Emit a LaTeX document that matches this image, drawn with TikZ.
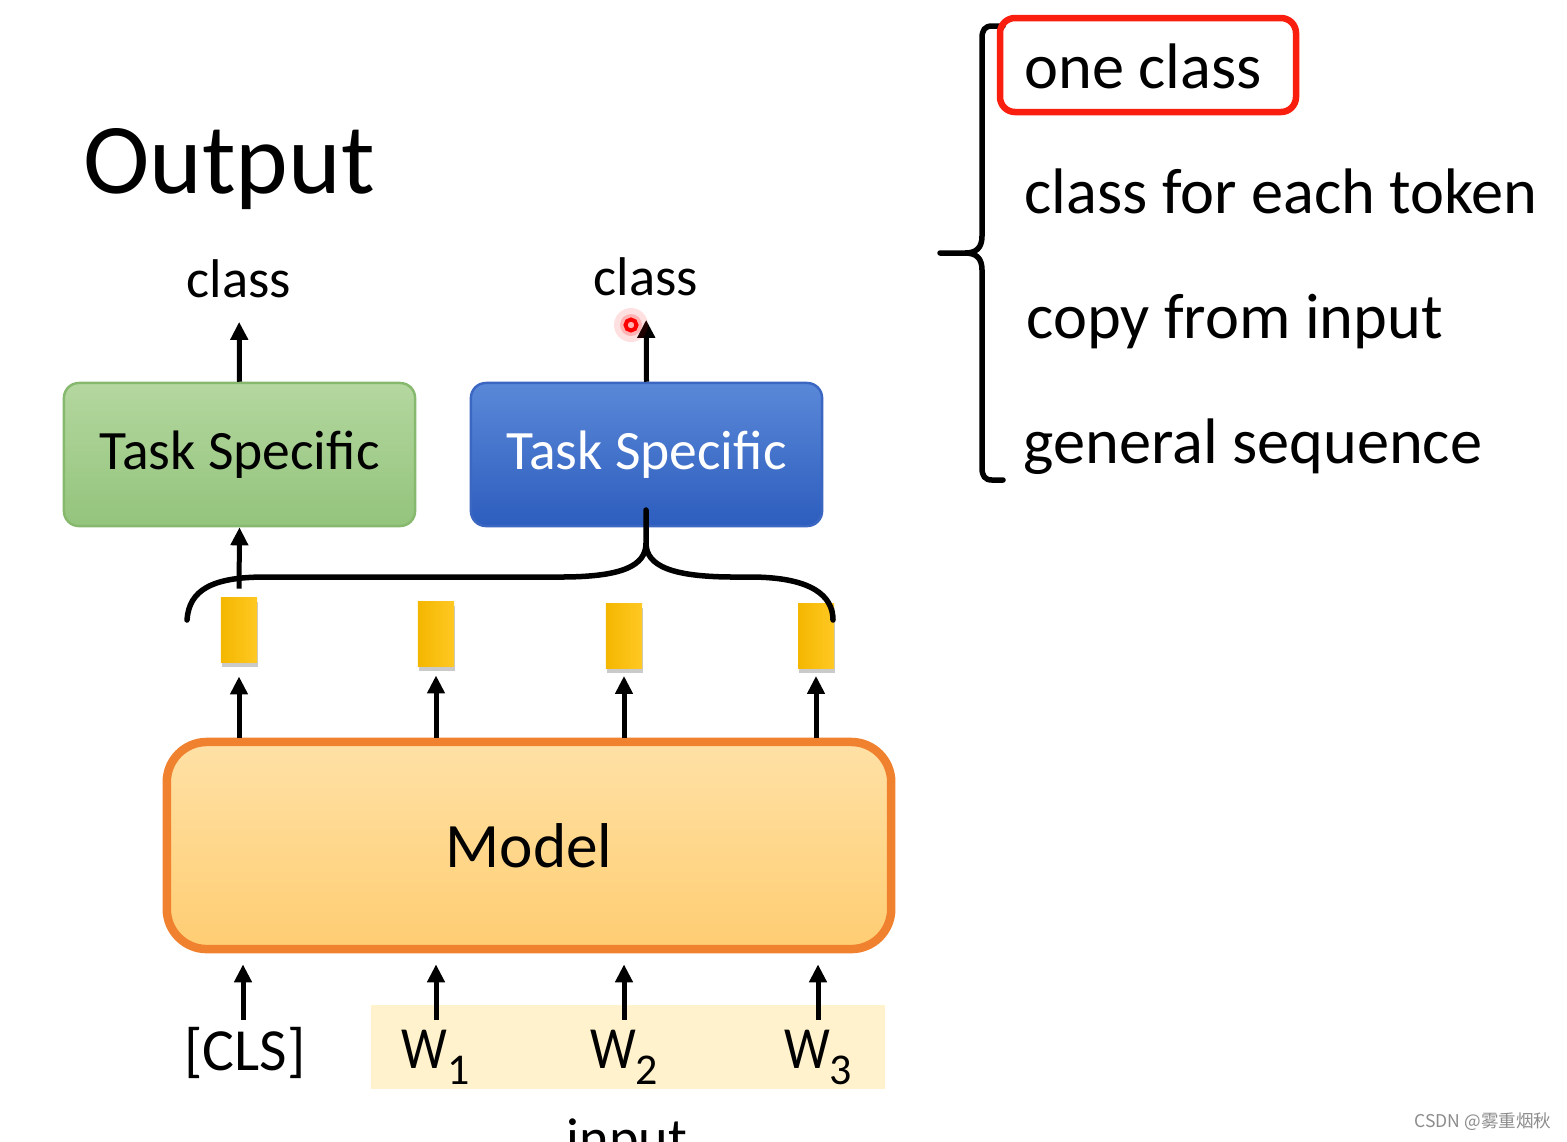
\documentclass[tikz,border=0pt]{standalone}
\usepackage{fontspec}
\setmainfont{Carlito}
\newfontfamily\cjk{Noto Sans CJK SC}
\usetikzlibrary{arrows.meta,positioning,shadows}
\definecolor{greentop}{HTML}{B4D79F}
\definecolor{greenbot}{HTML}{93C47C}
\definecolor{greenline}{HTML}{86B96D}
\definecolor{bluetop}{HTML}{5A88D8}
\definecolor{bluebot}{HTML}{2D5DBE}
\definecolor{blueline}{HTML}{3B67C2}
\definecolor{modeltop}{HTML}{FFE1A6}
\definecolor{modelbot}{HTML}{FFCD72}
\definecolor{modelline}{HTML}{F0822F}
\definecolor{vecleft}{HTML}{F4B700}
\definecolor{vecright}{HTML}{FFC823}
\definecolor{inputbg}{HTML}{FFF2CC}
\definecolor{redline}{HTML}{FA1E0E}
\tikzstyle{texto}=[inner sep=0pt]
\tikzstyle{listtext}=[texto,anchor=base west,font=\fontsize{18.3}{20}\selectfont]
\tikzstyle{labeltext}=[texto,anchor=base,font=\fontsize{15.5}{18}\selectfont]
\tikzstyle{tokentext}=[texto,anchor=base,font=\fontsize{17}{19}\selectfont]
\tikzstyle{taskbox}=[rounded corners=0.15cm,minimum width=3.51cm,minimum height=1.43cm,font=\fontsize{15.8}{18}\selectfont,line width=0.7pt]
\tikzstyle{greenbox}=[taskbox,draw=greenline,top color=greentop,bottom color=greenbot]
\tikzstyle{bluebox}=[taskbox,draw=blueline,top color=bluetop,bottom color=bluebot,text=white]
\tikzstyle{modelbox}=[rounded corners=0.4cm,minimum width=7.24cm,minimum height=2.07cm,line width=0.085cm,draw=modelline,top color=modeltop,bottom color=modelbot,font=\fontsize{18}{20}\selectfont]
\tikzstyle{vec}=[minimum width=0.36cm,minimum height=0.65cm,inner sep=0pt,left color=vecleft,right color=vecright,drop shadow={shadow xshift=0.3pt,shadow yshift=-1.3pt,fill=black!60,opacity=0.35}]
\tikzstyle{arr}=[line width=0.05cm,-{Triangle[length=0.18cm,width=0.17cm]}]
\tikzstyle{brace}=[line width=0.055cm,line cap=round]
\newcommand{\wsub}[1]{\scalebox{0.86}[1]{W}\raisebox{-0.28em}{\fontsize{12.5}{14}\selectfont #1}}

\begin{document}
\begin{tikzpicture}[x=0.01cm,y=-0.01cm,thick]
    \useasboundingbox (0,0) rectangle (1567,1141);
    % input band
    \fill [inputbg] (371,1005) rectangle (885,1089);

    \node [texto,anchor=base west,font=\fontsize{28.5}{30}\selectfont] (out) at (82,193) {Output};

    % task specific heads
    \node [greenbox] (ts1) at (239.5,454.5) {\raisebox{-2pt}{Task Specific}};
    \node [bluebox]  (ts2) at (646.5,454.5) {\raisebox{-2pt}{Task Specific}};
    \node [labeltext] (c1) at (239,297) {class};
    \node [labeltext] (c2) at (646,295) {class};
    \draw [arr,shorten >=0.23cm] (ts1.north) -- (c1.south);
    \draw [arr,shorten >=0.23cm] (ts2.north) -- (c2.south);

    % model and hidden vectors
    \node [modelbox] (model) at (529,845.5) {Model};
    \node [vec] (h1) at (239,629.5) {};
    \node [vec] (h2) at (436,633.5) {};
    \node [vec] (h3) at (624,636) {};
    \node [vec] (h4) at (816,636) {};
    \foreach \h/\gap in {h1/0.13cm,h2/0.08cm,h3/0.06cm,h4/0.06cm}
        \draw [arr,shorten >=\gap] (model.north -| \h) -- (\h.south);
    \draw [arr,shorten <=0.07cm] (h1.north) -- (ts1.south);

    % brace over all vectors
    \draw [brace] (187,620) .. controls (189,590) and (212,577) .. (265,577)
        -- (560,577) .. controls (622,577) and (646,566) .. (646,543) -- (646,510)
        (646,543) .. controls (646,566) and (672,577) .. (735,577)
        -- (750,577) .. controls (812,577) and (833,596) .. (833,620);

    % tokens
    \node [tokentext] (cls) at (245,1070) {[CLS]};
    \node [tokentext] (w1) at (436,1068) {\wsub{1}};
    \node [tokentext] (w2) at (624,1068) {\wsub{2}};
    \node [tokentext] (w3) at (818,1068) {\wsub{3}};
    \coordinate (i0) at (243,1020);
    \coordinate (i1) at (436,1020);
    \coordinate (i2) at (624,1020);
    \coordinate (i3) at (818,1020);
    \foreach \i in {i0,i1,i2,i3}
        \draw [arr,shorten >=0.11cm] (\i) -- (model.south -| \i);
    \node [texto,anchor=base,font=\fontsize{16}{18}\selectfont] (inp) at (627,1157) {input};

    % output types
    \draw [brace] (1003,26) -- (992,26) .. controls (985,26) and (982,30) .. (982,38)
        -- (982,236) .. controls (982,248) and (976,253) .. (965,253) -- (940,253)
        (965,253) .. controls (976,253) and (982,258) .. (982,270)
        -- (982,468) .. controls (982,476) and (985,480) .. (992,480) -- (1003,480);
    \node [listtext] (o1) at (1023,88) {one class};
    \node [listtext] (o2) at (1023,213) {class for each token};
    \node [listtext] (o3) at (1025,338) {copy from input};
    \node [listtext] (o4) at (1022,463) {general sequence};
    \draw [redline,line width=0.065cm,rounded corners=0.15cm] (1000,18) rectangle (1296,112);

    % pointer
    \fill [red,opacity=0.12] (631,325) circle (17);
    \fill [red,opacity=0.2] (631,325) circle (11);
    \draw [red,line width=0.04cm] (631,325) circle (5.5);

    \node [texto,text=black!45,font=\cjk\fontsize{5}{6}\selectfont] (mark) at (1483,1122) {CSDN @雾重烟秋};
\end{tikzpicture}
\end{document}
